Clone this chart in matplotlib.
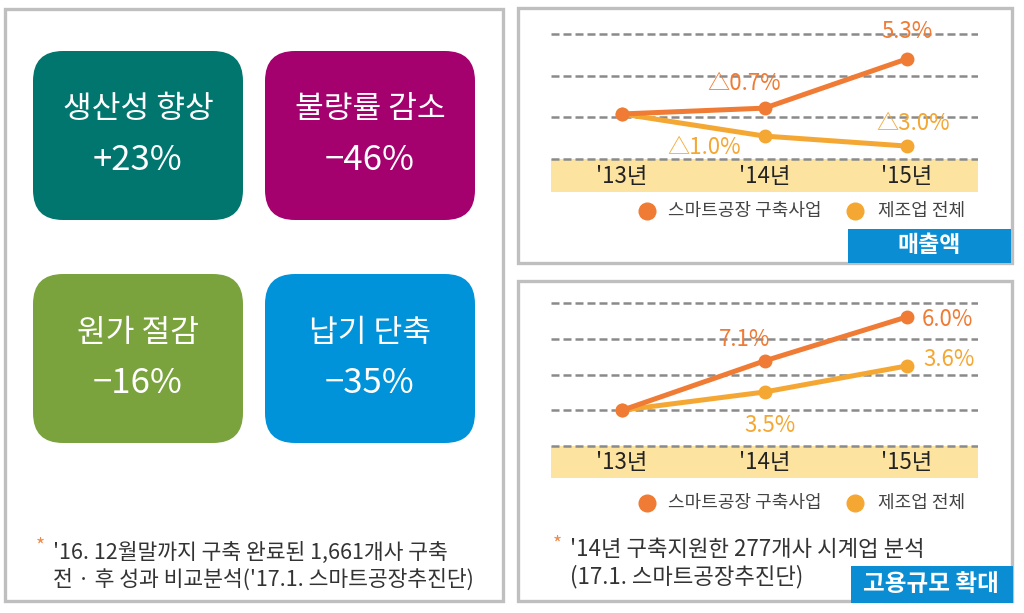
import matplotlib
matplotlib.use("Agg")
import matplotlib.pyplot as plt
from matplotlib.patches import FancyBboxPatch, Rectangle

plt.rcParams['font.family'] = ['Noto Sans CJK KR', 'DejaVu Sans']

# left panel: four result boxes
box_titles = ["생산성 향상", "불량률 감소", "원가 절감", "납기 단축"]
box_values = ["+23%", "−46%", "−16%", "−35%"]
box_colors = ["#00766F", "#A4006E", "#7AA33E", "#0093D9"]

# line charts
years = ["'13년", "'14년", "'15년"]
series_names = ["스마트공장 구축사업", "제조업 전체"]
series_colors = ["#EF7B34", "#F5A733"]

sales_smart = [1.08, 1.22, 2.4]
sales_mfg = [1.08, 0.55, 0.31]
sales_labels_smart = ["", "△0.7%", "5.3%"]
sales_labels_mfg = ["", "△1.0%", "△3.0%"]

jobs_smart = [1.0, 2.38, 3.61]
jobs_mfg = [1.0, 1.51, 2.24]
jobs_labels_smart = ["", "7.1%", "6.0%"]
jobs_labels_mfg = ["", "3.5%", "3.6%"]

note_left = ["'16. 12월말까지 구축 완료된 1,661개사 구축",
             "전 · 후 성과 비교분석('17.1. 스마트공장추진단)"]
note_right = ["'14년 구축지원한 277개사 시계업 분석",
              "(17.1. 스마트공장추진단)"]

W, H = 1024, 613
fig = plt.figure(figsize=(W / 100, H / 100), dpi=100)
bg = fig.add_axes([0, 0, 1, 1])
bg.set_xlim(0, W)
bg.set_ylim(H, 0)
bg.axis("off")

border = "#BFBFBF"
for (x0, y0, x1, y1) in [(5, 9, 503, 601), (518, 8, 1012, 263), (518, 281, 1012, 601)]:
    bg.add_patch(Rectangle((x0, y0), x1 - x0, y1 - y0, fill=False,
                           edgecolor=border, lw=2.4))

# result boxes
pos = [(33, 51), (265, 51), (33, 274), (265, 274)]
bw, bh = 210, 169
for (x, y), t, v, c in zip(pos, box_titles, box_values, box_colors):
    bg.add_patch(FancyBboxPatch((x, y), bw, bh,
                                boxstyle="round,pad=0,rounding_size=30",
                                fc=c, ec="none"))
    cx, cy = x + bw / 2, y + bh / 2
    bg.text(cx, cy - 26, t, color="white", fontsize=22.5, ha="center", va="center")
    bg.text(cx, cy + 25, v, color="white", fontsize=25, ha="center", va="center")

# footnotes
bg.text(40, 547, "*", color="#F08A4B", fontsize=14, ha="center", va="center")
bg.text(53, 553, note_left[0], color="#333333", fontsize=15.5, va="center")
bg.text(53, 580, note_left[1], color="#333333", fontsize=15.5, va="center")
bg.text(557, 545, "*", color="#F08A4B", fontsize=14, ha="center", va="center")
bg.text(570, 549, note_right[0], color="#333333", fontsize=16, va="center")
bg.text(570, 577, note_right[1], color="#333333", fontsize=16, va="center")

# badges
badge = "#0A8DD2"
bg.add_patch(Rectangle((848, 229), 163, 34, fc=badge, ec="none", zorder=3))
bg.text(929, 246, "매출액", color="white", fontsize=16.5, fontweight="bold",
        ha="center", va="center", zorder=4)
bg.add_patch(Rectangle((851, 566), 162, 37, fc=badge, ec="none", zorder=3))
bg.text(931, 584, "고용규모 확대", color="white", fontsize=17, fontweight="bold",
        ha="center", va="center", zorder=4)

# legends
for ly in (211, 503):
    bg.plot(647, ly, "o", ms=12, color=series_colors[0])
    bg.text(668, ly, series_names[0], color="#444444", fontsize=13, va="center")
    bg.plot(855, ly, "o", ms=12, color=series_colors[1])
    bg.text(878, ly, series_names[1], color="#444444", fontsize=13, va="center")


def line_chart(top, bottom, grid_px, n_grid, smart, mfg, lab_s, lab_m, offs_s, offs_m):
    ax = fig.add_axes([551 / W, 1 - bottom / H, 427 / W, (bottom - top) / H])
    ax.set_facecolor("none")
    ax.set_xlim(-0.5, 2.5)
    ax.set_ylim(-(bottom - grid_px[0]) / grid_px[1], (grid_px[0] - top) / grid_px[1])
    ax.axis("off")
    ax.axhspan(ax.get_ylim()[0], 0, color="#FDE3A0", lw=0, zorder=0)
    for g in range(n_grid):
        ax.axhline(g, color="#8A8A8A", lw=1.8, ls=(0, (3.2, 1.6)), zorder=1)
    x = range(len(years))
    for i, yl in enumerate(years):
        ax.text(i, -0.43 if n_grid == 4 else -0.45, yl, fontsize=16, color="#222222",
                ha="center", va="center")
    ax.plot(x, mfg, color=series_colors[1], lw=3.6, marker="o", ms=9, zorder=3,
            solid_capstyle="round")
    ax.plot(x, smart, color=series_colors[0], lw=3.6, marker="o", ms=9, zorder=4,
            solid_capstyle="round")
    for i in x:
        if lab_s[i]:
            dx, dy, ha = offs_s[i]
            ax.annotate(lab_s[i], (i, smart[i]), xytext=(dx, dy), textcoords="offset pixels",
                        color=series_colors[0], fontsize=16, ha=ha, va="center",
                        annotation_clip=False)
        if lab_m[i]:
            dx, dy, ha = offs_m[i]
            ax.annotate(lab_m[i], (i, mfg[i]), xytext=(dx, dy), textcoords="offset pixels",
                        color=series_colors[1], fontsize=16, ha=ha, va="center",
                        annotation_clip=False)
    return ax


line_chart(20, 192, (159, 41.7), 4, sales_smart, sales_mfg,
           sales_labels_smart, sales_labels_mfg,
           [None, (-20, 25, "center"), (0, 27, "center")],
           [None, (-60, -11, "center"), (6, 23, "center")])
line_chart(290, 478, (446, 35.75), 5, jobs_smart, jobs_mfg,
           jobs_labels_smart, jobs_labels_mfg,
           [None, (-20, 21, "center"), (15, -3, "left")],
           [None, (5, -33, "center"), (16, 6, "left")])

fig.savefig("out.png", dpi=100)
